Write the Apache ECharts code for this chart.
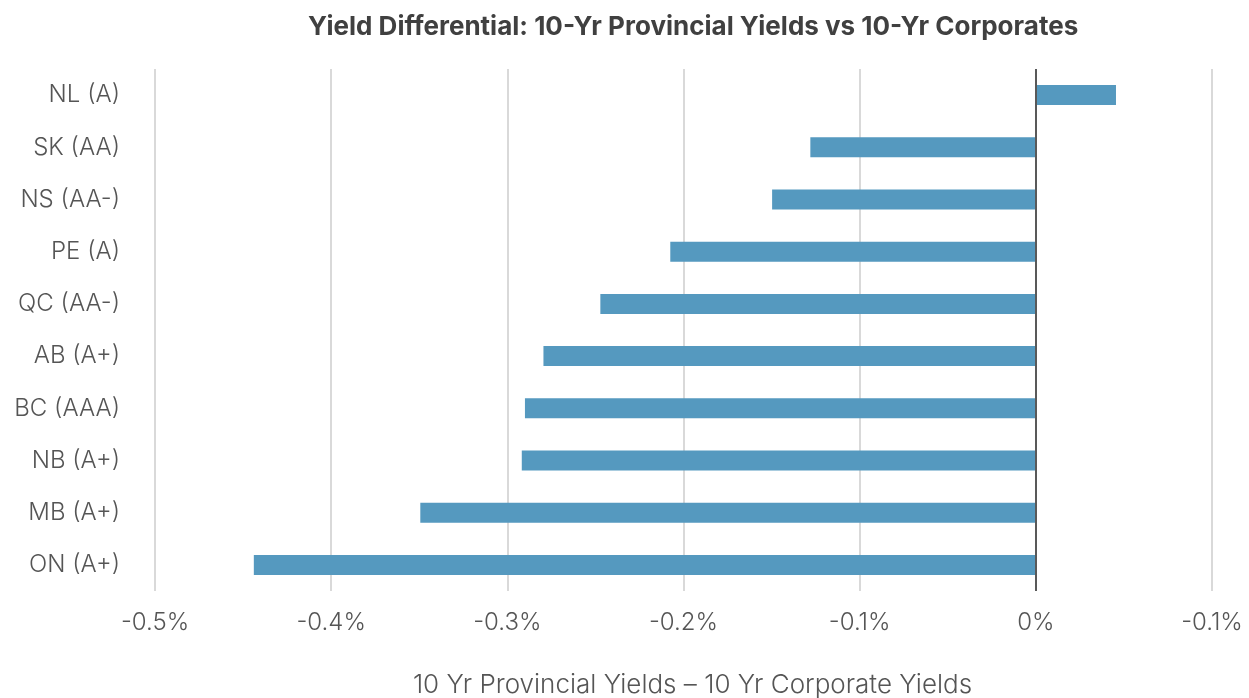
<!DOCTYPE html>
<html>
<head>
<meta charset="utf-8">
<script src="https://cdn.jsdelivr.net/npm/echarts@6/dist/echarts.min.js"></script>
<style>
  html, body { margin: 0; padding: 0; background: #fff; }
  #chart { width: 1249px; height: 698px; }
</style>
</head>
<body>
<div id="chart"></div>
<script>
// provinces, top to bottom
var categories = ['NL (A)', 'SK (AA)', 'NS (AA-)', 'PE (A)', 'QC (AA-)', 'AB (A+)', 'BC (AAA)', 'NB (A+)', 'MB (A+)', 'ON (A+)'];
// yield differential in %
var diffValues = [0.0455, -0.128, -0.1497, -0.2075, -0.2472, -0.2795, -0.290, -0.2918, -0.3494, -0.4439];
// x axis labels as printed (last one really is "-0.1%" in the source)
var tickLabels = ['-0.5%', '-0.4%', '-0.3%', '-0.2%', '-0.1%', '0%', '-0.1%'];

var font = 'Inter, Lato, sans-serif';

var myChart = echarts.init(document.getElementById('chart'));
var option = {
  animation: false,
  title: {
    text: 'Yield Differential: 10-Yr Provincial Yields vs 10-Yr Corporates',
    left: 303,
    top: 9,
    textStyle: { fontFamily: font, fontSize: 26, fontWeight: 'bold', color: '#404040' }
  },
  grid: { left: 155, right: 37, top: 69, bottom: 107, outerBoundsMode: 'none' },
  xAxis: {
    type: 'value',
    min: -0.5,
    max: 0.1,
    interval: 0.1,
    axisLine: { show: false },
    axisTick: { show: false },
    splitLine: { lineStyle: { color: '#d9d9d9', width: 2 } },
    axisLabel: {
      margin: 20,
      fontFamily: font,
      fontSize: 24,
      fontWeight: 300,
      color: '#555',
      formatter: function (v) {
        return tickLabels[Math.round((v + 0.5) / 0.1)];
      }
    },
    name: '10 Yr Provincial Yields – 10 Yr Corporate Yields',
    nameLocation: 'middle',
    nameGap: 81,
    nameTextStyle: { fontFamily: font, fontSize: 26, fontWeight: 300, color: '#555', padding: [0, 0, 0, 18] }
  },
  yAxis: {
    type: 'category',
    inverse: true,
    data: categories,
    axisLine: { show: false },
    axisTick: { show: false },
    axisLabel: { margin: 35, fontFamily: font, fontSize: 24, fontWeight: 300, color: '#555' }
  },
  series: [{
    type: 'bar',
    barWidth: 20,
    itemStyle: { color: '#5599bf' },
    data: diffValues,
    markLine: {
      silent: true,
      symbol: 'none',
      label: { show: false },
      lineStyle: { color: '#595959', width: 2, type: 'solid' },
      data: [{ xAxis: 0 }]
    }
  }]
};
myChart.setOption(option);
</script>
</body>
</html>
